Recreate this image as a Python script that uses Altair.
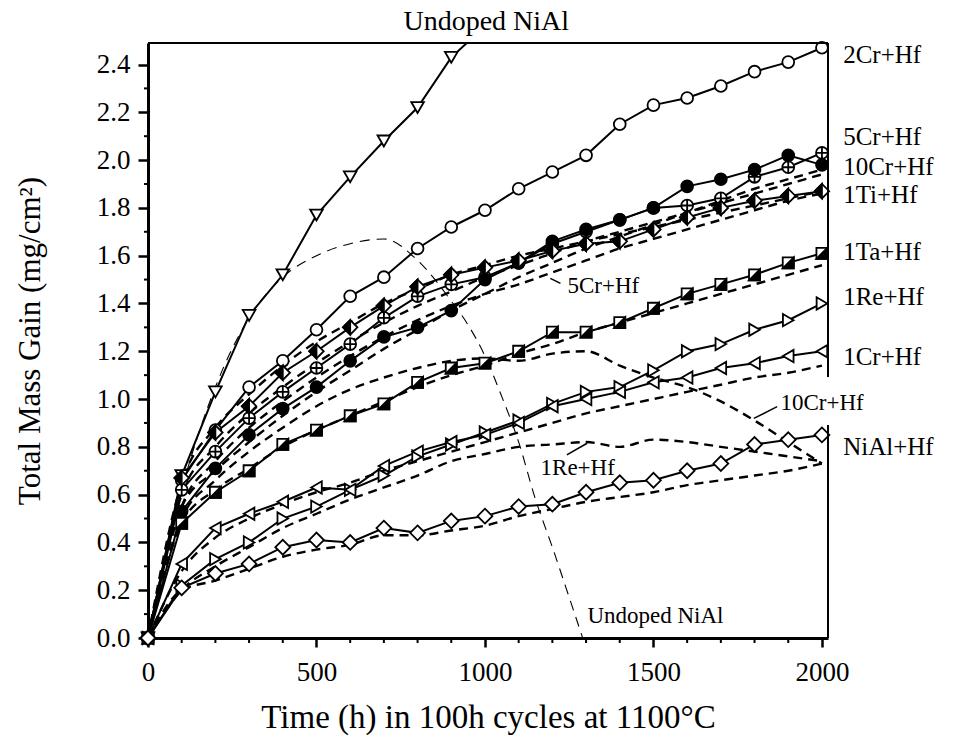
import altair as alt
import pandas as pd

# ---------------- data ----------------
hours = [0, 100, 200, 300, 400, 500, 600, 700, 800, 900, 1000,
         1100, 1200, 1300, 1400, 1500, 1600, 1700, 1800, 1900, 2000]

undoped_nial = [0, 0.68, 1.03, 1.35, 1.52, 1.77, 1.93, 2.08, 2.22, 2.43, 2.56]
cr2_hf = [0, 0.66, 0.87, 1.05, 1.16, 1.29, 1.43, 1.51, 1.63, 1.72, 1.79,
          1.88, 1.95, 2.02, 2.15, 2.23, 2.26, 2.31, 2.37, 2.41, 2.47]
cr5_hf = [0, 0.62, 0.78, 0.92, 1.03, 1.13, 1.23, 1.34, 1.43, 1.48, 1.51,
          1.57, 1.65, 1.70, 1.75, 1.80, 1.81, 1.84, 1.93, 1.97, 2.03]
cr10_hf = [0, 0.53, 0.71, 0.85, 0.96, 1.05, 1.16, 1.26, 1.30, 1.37, 1.50,
           1.57, 1.66, 1.71, 1.75, 1.80, 1.89, 1.92, 1.96, 2.02, 1.98]
ti1_hf = [0, 0.67, 0.86, 0.97, 1.11, 1.20, 1.30, 1.39, 1.47, 1.52, 1.55,
          1.58, 1.62, 1.65, 1.66, 1.71, 1.76, 1.80, 1.83, 1.85, 1.87]
ta1_hf = [0, 0.48, 0.61, 0.70, 0.81, 0.87, 0.93, 0.98, 1.07, 1.13, 1.15,
          1.20, 1.28, 1.28, 1.32, 1.38, 1.44, 1.48, 1.52, 1.57, 1.61]
re1_hf = [0, 0.22, 0.33, 0.40, 0.50, 0.55, 0.62, 0.68, 0.76, 0.81, 0.86,
          0.91, 0.98, 1.03, 1.05, 1.12, 1.20, 1.23, 1.29, 1.33, 1.40]
cr1_hf = [0, 0.31, 0.46, 0.52, 0.57, 0.63, 0.62, 0.72, 0.78, 0.82, 0.85,
          0.90, 0.97, 1.00, 1.03, 1.07, 1.09, 1.13, 1.15, 1.18, 1.20]
nial_hf = [0, 0.21, 0.27, 0.31, 0.38, 0.41, 0.40, 0.46, 0.44, 0.49, 0.51,
           0.55, 0.56, 0.61, 0.65, 0.66, 0.70, 0.73, 0.81, 0.83, 0.85]

# dashed model curves (same hours grid)
fit_10cr_label = [0, 0.50, 0.66, 0.78, 0.88, 0.97, 1.04, 1.09, 1.13, 1.16, 1.17,
                  1.16, 1.19, 1.20, 1.14, 1.09, 1.05, 0.99, 0.91, 0.82, 0.73]
fit_5cr_label = [0, 0.55, 0.74, 0.88, 0.99, 1.09, 1.18, 1.26, 1.33, 1.39, 1.44,
                 1.48, 1.53, 1.58, 1.63, 1.67, 1.71, 1.75, 1.79, 1.83, 1.86]
fit_1re_label = [0, 0.20, 0.30, 0.38, 0.46, 0.52, 0.58, 0.63, 0.68, 0.74, 0.77,
                 0.80, 0.81, 0.82, 0.80, 0.83, 0.82, 0.80, 0.78, 0.76, 0.74]
fit_10cr = [0, 0.55, 0.70, 0.82, 0.93, 1.03, 1.12, 1.21, 1.29, 1.37, 1.44,
            1.51, 1.57, 1.63, 1.68, 1.73, 1.78, 1.83, 1.88, 1.92, 1.96]
fit_5cr = [0, 0.60, 0.80, 0.94, 1.05, 1.15, 1.24, 1.32, 1.39, 1.45, 1.51,
           1.56, 1.61, 1.66, 1.70, 1.74, 1.78, 1.82, 1.86, 1.90, 1.94]
fit_1ti = [0, 0.65, 0.88, 1.02, 1.14, 1.24, 1.32, 1.40, 1.46, 1.52, 1.56,
           1.60, 1.63, 1.66, 1.69, 1.72, 1.75, 1.78, 1.81, 1.84, 1.87]
fit_1ta = [0, 0.48, 0.62, 0.71, 0.80, 0.87, 0.93, 0.99, 1.05, 1.10, 1.14,
           1.19, 1.23, 1.28, 1.32, 1.36, 1.40, 1.44, 1.48, 1.52, 1.56]
fit_1cr = [0, 0.28, 0.42, 0.50, 0.56, 0.61, 0.65, 0.70, 0.74, 0.78, 0.82,
           0.86, 0.90, 0.94, 0.97, 1.00, 1.03, 1.06, 1.09, 1.11, 1.14]
fit_nial = [0, 0.20, 0.24, 0.29, 0.34, 0.37, 0.39, 0.43, 0.43, 0.45, 0.47,
            0.51, 0.54, 0.57, 0.59, 0.61, 0.64, 0.66, 0.68, 0.70, 0.73]

fit_undoped_h = [0, 100, 200, 300, 400, 500, 600, 700, 800, 900, 950, 1000,
                 1050, 1100, 1150, 1200, 1250, 1290]
fit_undoped_v = [0, 0.62, 1.05, 1.34, 1.51, 1.60, 1.65, 1.67, 1.58, 1.41, 1.31, 1.18,
                 1.01, 0.82, 0.58, 0.38, 0.17, 0.0]

# labels
right_text = ["2Cr+Hf", "5Cr+Hf", "10Cr+Hf", "1Ti+Hf", "1Ta+Hf", "1Re+Hf", "1Cr+Hf", "NiAl+Hf"]
right_h = [2063, 2063, 2063, 2063, 2063, 2063, 2063, 2063]
right_v = [2.406, 2.062, 1.938, 1.820, 1.582, 1.393, 1.142, 0.766]

inner_text = ["5Cr+Hf", "10Cr+Hf", "1Re+Hf", "Undoped NiAl"]
inner_h = [1245, 1877, 1165, 1304]
inner_v = [1.444, 0.954, 0.682, 0.063]

top_text = ["Undoped NiAl"]
top_h = [758]
top_v = [2.544]

leader_h = [1194, 1798, 1243]
leader_v = [1.505, 0.919, 0.766]
leader_h2 = [1224, 1867, 1303]
leader_v2 = [1.484, 0.968, 0.815]

x_major = [0, 500, 1000, 1500, 2000]
x_minor = [100, 200, 300, 400, 600, 700, 800, 900, 1100, 1200, 1300, 1400,
           1600, 1700, 1800, 1900]
y_major = [0.0, 0.2, 0.4, 0.6, 0.8, 1.0, 1.2, 1.4, 1.6, 1.8, 2.0, 2.2, 2.4]
y_minor = [0.1, 0.3, 0.5, 0.7, 0.9, 1.1, 1.3, 1.5, 1.7, 1.9, 2.1, 2.3]

# ---------------- tables ----------------
solid = {
    "Undoped NiAl": undoped_nial, "2Cr+Hf": cr2_hf, "5Cr+Hf": cr5_hf,
    "10Cr+Hf": cr10_hf, "1Ti+Hf": ti1_hf, "1Ta+Hf": ta1_hf,
    "1Re+Hf": re1_hf, "1Cr+Hf": cr1_hf, "NiAl+Hf": nial_hf,
}
dashed = {
    "f10label": fit_10cr_label, "f5label": fit_5cr_label, "f1relabel": fit_1re_label,
    "f10": fit_10cr, "f5": fit_5cr, "f1ti": fit_1ti, "f1ta": fit_1ta,
    "f1cr": fit_1cr, "fnial": fit_nial,
}

rows = []
for name, vals in solid.items():
    for h, v in zip(hours, vals):
        rows.append({"s": name, "h": h, "v": v})
df = pd.DataFrame(rows)

drows = []
for name, vals in dashed.items():
    for h, v in zip(hours, vals):
        drows.append({"s": name, "h": h, "v": v})
dfd = pd.DataFrame(drows)
dfu = pd.DataFrame({"h": fit_undoped_h, "v": fit_undoped_v})

FONT = "Liberation Serif"
W, H = 680, 595

x_enc = alt.X("h:Q", scale=alt.Scale(domain=[0, 2018], nice=False, zero=False),
              axis=alt.Axis(values=x_major, format="d", grid=False,
                            title="Time (h) in 100h cycles at 1100°C",
                            domainColor="black", domainWidth=3,
                            tickColor="black", tickWidth=2.5, tickSize=9,
                            labelFont=FONT, labelFontSize=27, labelColor="black",
                            labelPadding=12, labelFlush=False,
                            titleFont=FONT, titleFontSize=33, titleFontWeight="normal",
                            titleColor="black", titleX=W / 2, titleY=79,
                            titleBaseline="middle", titleAlign="center"))
y_enc = alt.Y("v:Q", scale=alt.Scale(domain=[0, 2.49], nice=False, zero=False),
              axis=alt.Axis(values=y_major, format=".1f", grid=False,
                            title="Total Mass Gain (mg/cm²)",
                            domainColor="black", domainWidth=3,
                            tickColor="black", tickWidth=2.5, tickSize=10,
                            labelFont=FONT, labelFontSize=27, labelColor="black",
                            labelPadding=8, labelFlush=False,
                            titleFont=FONT, titleFontSize=31, titleFontWeight="normal",
                            titleColor="black", titleX=-118, titleY=H / 2,
                            titleAngle=-90, titleBaseline="middle", titleAlign="center"))

layers = []

# dashed model curves
layers.append(alt.Chart(dfd).mark_line(color="black", strokeWidth=2.4, strokeDash=[9, 6],
                                       interpolate="monotone", clip=True)
              .encode(x=x_enc, y=y_enc, detail="s:N"))
layers.append(alt.Chart(dfu).mark_line(color="black", strokeWidth=1.1, strokeDash=[10, 7],
                                       interpolate="monotone", clip=True)
              .encode(x=x_enc, y=y_enc))

# solid data lines
layers.append(alt.Chart(df).mark_line(color="black", strokeWidth=2, clip=True)
              .encode(x=x_enc, y=y_enc, detail="s:N"))

OPLUS = "M-1,0A1,1,0,1,1,1,0A1,1,0,1,1,-1,0Z M-1,0L1,0 M0,-1L0,1"
HALF_DIAMOND = "M0,-1L-1,0L0,1Z"
HALF_SQUARE = "M1,-1L1,1L-1,1Z"

marker_styles = [
    ("Undoped NiAl", "triangle-down", "white", 160),
    ("2Cr+Hf", "circle", "white", 140),
    ("5Cr+Hf", OPLUS, "white", 140),
    ("10Cr+Hf", "circle", "black", 140),
    ("1Ti+Hf", "diamond", "white", 210),
    ("1Ti+Hf", HALF_DIAMOND, "black", 210),
    ("1Ta+Hf", "square", "white", 121),
    ("1Ta+Hf", HALF_SQUARE, "black", 121),
    ("1Re+Hf", "triangle-right", "white", 150),
    ("1Cr+Hf", "triangle-left", "white", 150),
    ("NiAl+Hf", "diamond", "white", 220),
]
for name, shape, fill, size in marker_styles:
    layers.append(
        alt.Chart(df).transform_filter(alt.datum.s == name)
        .transform_filter(alt.datum.v <= 2.49)
        .mark_point(shape=shape, filled=True, fill=fill, stroke="black",
                    strokeWidth=1.8, size=size, opacity=1)
        .encode(x=x_enc, y=y_enc)
    )

# minor ticks
layers.append(alt.Chart(pd.DataFrame({"v": y_minor})).mark_rule(color="black", strokeWidth=2)
              .encode(y=y_enc, x=alt.value(-4), x2=alt.value(0)))
layers.append(alt.Chart(pd.DataFrame({"h": x_minor})).mark_rule(color="black", strokeWidth=2)
              .encode(x=x_enc, y=alt.value(H), y2=alt.value(H + 5)))

# frame (top and right, with a gap on the right)
one = pd.DataFrame({"a": [0]})
layers.append(alt.Chart(one).mark_rule(color="black", strokeWidth=2)
              .encode(x=alt.value(0), x2=alt.value(W), y=alt.value(0)))
layers.append(alt.Chart(one).mark_rule(color="black", strokeWidth=2)
              .encode(x=alt.value(W), y=alt.value(0), y2=alt.value(334)))
layers.append(alt.Chart(one).mark_rule(color="black", strokeWidth=2)
              .encode(x=alt.value(W), y=alt.value(382), y2=alt.value(H)))

# leader lines
dfl = pd.DataFrame({"h": leader_h, "v": leader_v, "h2": leader_h2, "v2": leader_v2})
layers.append(alt.Chart(dfl).mark_rule(color="black", strokeWidth=1.5)
              .encode(x=x_enc, y=y_enc, x2="h2:Q", y2="v2:Q"))

# text labels
dfr = pd.DataFrame({"h": right_h, "v": right_v, "t": right_text})
layers.append(alt.Chart(dfr).mark_text(align="left", baseline="alphabetic", font=FONT,
                                       fontSize=25, color="black")
              .encode(x=x_enc, y=y_enc, text="t:N"))
dfi = pd.DataFrame({"h": inner_h, "v": inner_v, "t": inner_text})
layers.append(alt.Chart(dfi).mark_text(align="left", baseline="alphabetic", font=FONT,
                                       fontSize=23, color="black")
              .encode(x=x_enc, y=y_enc, text="t:N"))
dft = pd.DataFrame({"h": top_h, "v": top_v, "t": top_text})
layers.append(alt.Chart(dft).mark_text(align="left", baseline="alphabetic", font=FONT,
                                       fontSize=28, color="black")
              .encode(x=x_enc, y=y_enc, text="t:N"))

chart = alt.layer(*layers).properties(
    width=W, height=H,
    autosize=alt.AutoSizeParams(type="none"),
    padding={"left": 148, "top": 43, "right": 127, "bottom": 105},
    background="white",
).configure_view(stroke=None)

chart.save("out.html", embed_options={"renderer": "svg", "actions": False})
